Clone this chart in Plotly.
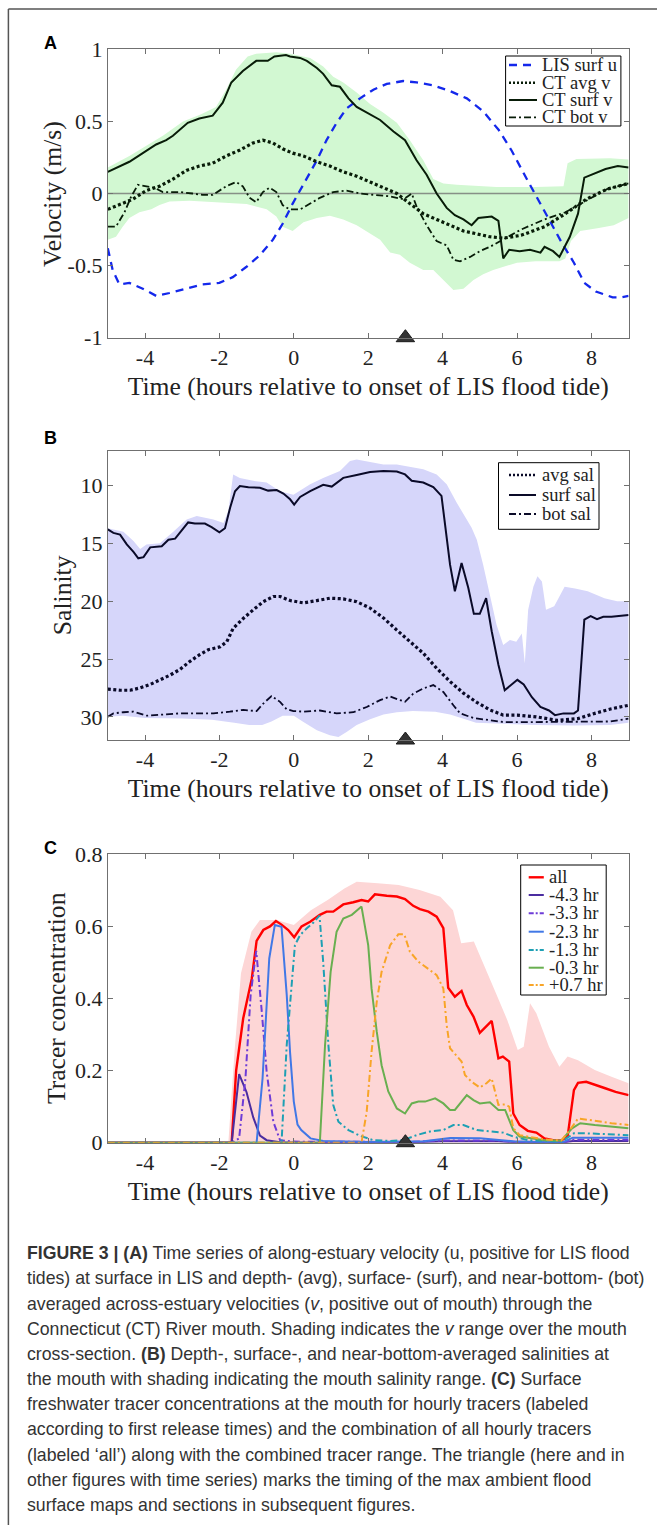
import plotly.graph_objects as go

# ---------------- Panel A: velocities (m/s) ----------------
LIS_U_T = [-5, -4.87, -4.69, -4.42, -4.06, -3.70, -3.34, -2.89, -2.45, -2.00,
           -1.64, -1.28, -0.92, -0.56, -0.30, -0.03, 0.12, 0.35, 0.62, 0.88,
           1.15, 1.42, 1.78, 2.14, 2.50, 2.94, 3.30, 3.75, 4.20, 4.65,
           5.09, 5.51, 5.85, 6.18, 6.52, 6.86, 7.20, 7.53, 7.81, 8.12,
           8.57, 8.80, 9.0]
LIS_U = [-0.38, -0.53, -0.63, -0.62, -0.66, -0.71, -0.69, -0.66, -0.63, -0.62,
         -0.58, -0.51, -0.43, -0.32, -0.21, -0.07, 0.0, 0.10, 0.23, 0.37,
         0.49, 0.59, 0.66, 0.72, 0.76, 0.78, 0.77, 0.75, 0.71, 0.66,
         0.57, 0.44, 0.30, 0.14, -0.02, -0.18, -0.34, -0.48, -0.62, -0.68,
         -0.72, -0.72, -0.71]

CT_SURF_T = [-5, -4.42, -4.06, -3.70, -3.43, -3.25, -2.85, -2.54, -2.18, -1.91,
             -1.68, -1.37, -1.01, -0.70, -0.52, -0.21, -0.10, 0.17, 0.35, 0.62,
             0.79, 1.02, 1.24, 1.47, 1.69, 2.05, 2.32, 2.68, 2.99, 3.30,
             3.57, 3.84, 4.11, 4.33, 4.56, 4.78, 4.96, 5.32, 5.50, 5.63,
             5.79, 6.07, 6.35, 6.63, 6.74, 6.97, 7.14, 7.42, 7.64, 7.81,
             8.09, 8.38, 8.71, 9.0]
CT_SURF_V = [0.15, 0.22, 0.28, 0.34, 0.37, 0.40, 0.49, 0.52, 0.54, 0.63,
             0.77, 0.85, 0.92, 0.92, 0.95, 0.96, 0.95, 0.94, 0.92, 0.87,
             0.83, 0.75, 0.74, 0.66, 0.60, 0.55, 0.51, 0.43, 0.37, 0.23,
             0.13, 0.00, -0.10, -0.15, -0.18, -0.22, -0.17, -0.16, -0.19, -0.45,
             -0.39, -0.40, -0.39, -0.41, -0.37, -0.40, -0.44, -0.30, -0.14, 0.11,
             0.14, 0.17, 0.19, 0.18]

CT_AVG_T = [-5, -4.60, -4.33, -3.97, -3.61, -3.25, -2.89, -2.54, -2.18, -1.82,
            -1.46, -1.10, -0.83, -0.56, -0.30, -0.03, 0.26, 0.62, 0.97, 1.33,
            1.69, 2.05, 2.41, 2.77, 3.12, 3.48, 3.84, 4.20, 4.56, 4.92,
            5.27, 5.63, 6.11, 6.74, 7.30, 7.86, 8.42, 9.0]
CT_AVG_V = [-0.11, -0.07, -0.04, 0.02, 0.05, 0.10, 0.16, 0.19, 0.21, 0.26,
            0.30, 0.35, 0.37, 0.35, 0.31, 0.28, 0.26, 0.22, 0.19, 0.15,
            0.12, 0.08, 0.04, 0.00, -0.07, -0.14, -0.18, -0.22, -0.26, -0.28,
            -0.30, -0.31, -0.29, -0.23, -0.14, -0.04, 0.03, 0.07]

CT_BOT_T = [-5, -4.78, -4.55, -4.37, -4.19, -3.97, -3.75, -3.52, -3.07, -2.72,
            -2.45, -2.18, -1.82, -1.55, -1.37, -1.19, -1.01, -0.83, -0.65, -0.47,
            -0.30, -0.12, 0.17, 0.44, 0.70, 1.06, 1.42, 1.78, 2.23, 2.59,
            2.95, 3.17, 3.30, 3.57, 3.84, 4.11, 4.29, 4.47, 4.74, 5.00,
            5.27, 5.63, 6.11, 6.74, 7.30, 7.86, 8.42, 9.0]
CT_BOT_V = [-0.23, -0.23, -0.13, -0.02, 0.06, 0.05, 0.04, 0.01, 0.01, 0.00,
            -0.01, -0.01, 0.05, 0.08, 0.05, -0.03, -0.06, 0.01, 0.04, 0.01,
            -0.08, -0.11, -0.11, -0.07, -0.03, 0.01, 0.02, 0.00, -0.01, -0.02,
            -0.04, 0.00, -0.09, -0.22, -0.33, -0.36, -0.46, -0.47, -0.44, -0.40,
            -0.37, -0.32, -0.25, -0.18, -0.13, -0.05, 0.03, 0.07]

# v range over the mouth cross-section
V_MAX_T = [-5, -4.42, -3.52, -2.98, -2.49, -2.09, -1.82, -1.55, -1.24, -1.01,
           -0.47, -0.10, 0.44, 0.79, 1.06, 1.33, 1.69, 2.05, 2.41, 2.77,
           3.12, 3.48, 3.75, 4.02, 4.38, 4.92, 5.45, 6.5, 7.25, 7.36,
           7.6, 8.5, 9.0]
V_MAX = [0.18, 0.26, 0.40, 0.50, 0.55, 0.60, 0.72, 0.86, 0.95, 0.97,
         0.98, 0.97, 0.94, 0.88, 0.81, 0.77, 0.70, 0.62, 0.56, 0.49,
         0.37, 0.23, 0.10, 0.07, 0.06, 0.05, 0.045, 0.045, 0.05, 0.21,
         0.24, 0.245, 0.235]
V_MIN_T = [-5, -4.78, -4.60, -4.42, -4.15, -3.83, -3.61, -3.34, -2.80, -2.16,
           -1.71, -1.27, -0.73, -0.47, -0.30, -0.03, 0.26, 0.62, 0.97, 1.33,
           1.69, 2.05, 2.32, 2.59, 2.85, 3.12, 3.48, 3.75, 4.02, 4.29,
           4.56, 4.83, 5.09, 5.36, 5.63, 6.0, 6.5, 7.14, 7.3, 7.45,
           7.7, 8.2, 8.6, 9.0]
V_MIN = [-0.32, -0.30, -0.23, -0.17, -0.13, -0.11, -0.08, -0.055, -0.05, -0.06,
         -0.067, -0.072, -0.11, -0.16, -0.23, -0.26, -0.20, -0.17, -0.155, -0.18,
         -0.22, -0.275, -0.32, -0.41, -0.425, -0.48, -0.53, -0.53, -0.60, -0.67,
         -0.66, -0.60, -0.56, -0.53, -0.51, -0.48, -0.47, -0.47, -0.45, -0.33,
         -0.26, -0.24, -0.22, -0.17]

# ---------------- Panel B: salinity ----------------
SURF_SAL_T = [-5, -4.85, -4.67, -4.49, -4.31, -4.18, -4.04, -3.86, -3.55, -3.37,
              -3.19, -3.01, -2.84, -2.66, -2.39, -2.21, -2.00, -1.85, -1.71, -1.58,
              -1.45, -1.22, -0.91, -0.69, -0.46, -0.28, -0.10, 0.01, 0.17, 0.44,
              0.79, 1.02, 1.33, 1.69, 2.05, 2.41, 2.77, 2.99, 3.17, 3.48,
              3.75, 3.97, 4.11, 4.20, 4.33, 4.51, 4.69, 4.84, 5.00, 5.17,
              5.32, 5.50, 5.67, 6.01, 6.18, 6.40, 6.63, 6.86, 7.02, 7.25,
              7.53, 7.64, 7.81, 7.98, 8.15, 8.32, 8.54, 9.0]
SURF_SAL = [13.8, 14.1, 14.25, 15.1, 15.75, 16.3, 16.2, 15.35, 15.25, 14.7,
            14.6, 13.9, 13.2, 13.3, 13.3, 13.6, 14.05, 13.7, 11.9, 10.5,
            10.05, 10.15, 10.2, 10.45, 10.4, 10.7, 11.2, 11.65, 11.0, 10.5,
            9.95, 10.1, 9.35, 9.1, 8.85, 8.75, 8.8, 9.05, 9.6, 9.75,
            10.15, 10.9, 14.5, 16.85, 19.15, 16.7, 18.85, 21.1, 21.1, 19.75,
            22.6, 25.5, 27.7, 26.8, 27.2, 28.3, 29.15, 29.45, 29.85, 29.7,
            29.7, 29.45, 21.6, 21.3, 21.55, 21.35, 21.35, 21.2]

AVG_SAL_T = [-5, -4.67, -4.40, -4.13, -3.86, -3.60, -3.33, -3.06, -2.79, -2.52,
             -2.30, -1.98, -1.80, -1.63, -1.36, -1.09, -0.82, -0.55, -0.37, -0.10,
             0.26, 0.62, 0.97, 1.33, 1.69, 2.05, 2.41, 2.77, 3.12, 3.48,
             3.84, 4.20, 4.56, 4.92, 5.27, 5.63, 6.00, 6.52, 7.08, 7.64,
             8.09, 8.54, 9.0]
AVG_SAL = [27.6, 27.7, 27.7, 27.5, 27.2, 26.8, 26.4, 25.9, 25.2, 24.6,
           24.2, 23.95, 23.5, 22.35, 21.5, 20.75, 20.05, 19.6, 19.6, 19.95,
           20.15, 19.95, 19.75, 19.8, 20.05, 20.6, 21.45, 22.5, 23.45, 24.5,
           25.8, 26.95, 27.95, 28.75, 29.4, 29.85, 29.85, 30.0, 30.3, 30.15,
           29.7, 29.3, 29.0]

BOT_SAL_T = [-5, -4.85, -4.58, -4.31, -3.95, -3.51, -3.06, -2.61, -2.16, -1.72,
             -1.36, -1.00, -0.82, -0.60, -0.37, -0.19, -0.01, 0.26, 0.70, 1.15,
             1.60, 1.96, 2.32, 2.59, 2.99, 3.21, 3.48, 3.75, 4.02, 4.29,
             4.47, 4.83, 5.27, 5.63, 6.5, 7.5, 8.5, 9.0]
BOT_SAL = [30.0, 29.7, 29.6, 29.55, 29.9, 29.8, 29.7, 29.7, 29.7, 29.55,
           29.4, 29.5, 28.85, 28.2, 28.7, 29.35, 29.5, 29.55, 29.45, 29.7,
           29.6, 29.15, 28.55, 28.25, 28.7, 28.0, 27.55, 27.25, 27.85, 29.0,
           29.7, 30.1, 30.3, 30.45, 30.45, 30.45, 30.4, 30.15]

# mouth salinity range
SAL_MIN_T = [-5, -4.58, -4.31, -4.13, -3.96, -3.60, -3.24, -2.88, -2.61, -2.16,
             -1.89, -1.76, -1.63, -1.45, -1.09, -0.73, -0.37, -0.01, 0.44, 0.79,
             1.24, 1.51, 1.69, 2.05, 2.41, 2.77, 3.12, 3.48, 3.84, 4.11,
             4.38, 4.56, 4.78, 4.92, 5.09, 5.27, 5.45, 5.63, 5.81, 5.98,
             6.13, 6.21, 6.30, 6.44, 6.55, 6.67, 6.78, 7.00, 7.28, 7.56,
             7.90, 8.35, 8.69, 9.0]
SAL_MIN = [13.7, 14.0, 14.8, 15.5, 15.1, 15.0, 14.0, 12.95, 12.65, 12.95,
           13.25, 12.2, 9.05, 9.35, 9.6, 9.75, 10.5, 10.8, 9.9, 9.35,
           8.75, 7.9, 7.75, 7.95, 8.2, 8.2, 8.4, 8.6, 9.05, 9.9,
           11.5, 12.5, 13.65, 14.7, 16.85, 19.45, 22.05, 23.8, 23.35, 23.5,
           22.8, 25.4, 20.75, 18.75, 17.85, 18.3, 20.75, 20.45, 18.75, 18.9,
           19.15, 19.75, 20.0, 20.0]
SAL_MAX_T = [-5, -4.6, -4.0, -3.0, -2.2, -1.6, -1.2, -0.85, -0.6, -0.3,
             0.0, 0.26, 0.62, 0.97, 1.2, 1.42, 1.69, 2.05, 2.41, 2.77,
             3.2, 3.8, 4.2, 4.5, 4.9, 5.5, 6.5, 7.5, 8.5, 9.0]
SAL_MAX = [30.0, 29.9, 30.1, 30.15, 30.25, 30.5, 30.7, 30.7, 30.4, 29.9,
           29.9, 30.45, 31.15, 31.6, 31.75, 31.3, 30.7, 30.2, 29.8, 29.6,
           29.5, 29.55, 29.8, 30.1, 30.5, 30.6, 30.7, 30.75, 30.7, 30.5]

# ---------------- Panel C: surface tracer concentrations ----------------
ALL_T = [-5, -1.67, -1.55, -1.36, -1.13, -1.00, -0.82, -0.64, -0.48, -0.33,
         -0.15, 0.01, 0.21, 0.44, 0.70, 0.88, 1.06, 1.33, 1.60, 1.82,
         2.00, 2.18, 2.50, 2.77, 2.99, 3.21, 3.39, 3.62, 3.84, 4.02,
         4.15, 4.33, 4.51, 4.65, 4.83, 5.00, 5.32, 5.50, 5.62, 5.79,
         5.90, 6.07, 6.29, 6.52, 6.74, 6.97, 7.19, 7.36, 7.53, 7.64,
         7.86, 8.09, 8.37, 8.65, 9.0]
ALL_C = [0, 0, 0.20, 0.345, 0.455, 0.56, 0.59, 0.60, 0.615, 0.605,
         0.59, 0.57, 0.60, 0.613, 0.632, 0.641, 0.641, 0.661, 0.667, 0.673,
         0.669, 0.689, 0.685, 0.683, 0.676, 0.657, 0.648, 0.641, 0.627, 0.595,
         0.43, 0.405, 0.421, 0.382, 0.35, 0.305, 0.338, 0.234, 0.239, 0.225,
         0.081, 0.049, 0.033, 0.028, 0.012, 0.007, 0.006, 0.017, 0.146, 0.166,
         0.169, 0.16, 0.151, 0.141, 0.132]

ALL_MAX_T = [-5, -1.76, -1.59, -1.42, -1.14, -0.91, -0.46, 0.0, 0.46, 0.91,
             1.36, 1.69, 2.26, 2.82, 3.38, 3.94, 4.28, 4.50, 4.84, 5.06,
             5.40, 5.74, 6.02, 6.18, 6.35, 6.52, 6.86, 7.14, 7.36, 7.64,
             8.09, 8.54, 9.0]
ALL_MAX = [0, 0, 0.257, 0.47, 0.585, 0.618, 0.618, 0.604, 0.645, 0.673,
           0.705, 0.724, 0.72, 0.715, 0.701, 0.682, 0.645, 0.553, 0.558, 0.507,
           0.423, 0.34, 0.257, 0.266, 0.387, 0.359, 0.266, 0.211, 0.239, 0.229,
           0.202, 0.183, 0.165]

TR43_T = [-5, -1.67, -1.47, -1.27, -1.09, -0.91, -0.73, -0.37, 0.5, 3.0,
          4.0, 5.5, 6.0, 7.2, 7.5, 9.0]
TR43_C = [0, 0, 0.19, 0.14, 0.07, 0.02, 0.007, 0.001, 0.0, 0.0,
          0.004, 0.004, 0.001, 0.0, 0.005, 0.005]

TR33_T = [-5, -1.67, -1.47, -1.30, -1.16, -1.01, -0.86, -0.73, -0.55, -0.37,
          0.0, 3.0, 4.0, 5.5, 6.0, 7.2, 7.5, 9.0]
TR33_C = [0, 0, 0.012, 0.178, 0.41, 0.532, 0.363, 0.197, 0.058, 0.007,
          0.003, 0.002, 0.006, 0.006, 0.002, 0.0, 0.008, 0.008]

TR23_T = [-5, -1.0, -0.84, -0.66, -0.51, -0.33, -0.19, -0.10, 0.0, 0.10,
          0.20, 0.45, 0.79, 2.0, 3.5, 4.2, 5.0, 5.9, 7.2, 7.5, 9.0]
TR23_C = [0, 0, 0.178, 0.511, 0.604, 0.599, 0.41, 0.25, 0.114, 0.05,
          0.035, 0.012, 0.005, 0.002, 0.004, 0.013, 0.012, 0.004, 0.0, 0.014, 0.014]

TR13_T = [-5, -0.33, -0.19, -0.01, 0.03, 0.17, 0.35, 0.53, 0.69, 0.79,
          0.93, 1.06, 1.20, 1.47, 1.78, 2.14, 2.59, 2.94, 3.30, 3.66,
          4.02, 4.29, 4.56, 4.92, 5.27, 5.63, 5.90, 6.29, 7.2, 7.53,
          7.86, 9.0]
TR13_C = [0, 0, 0.271, 0.479, 0.548, 0.576, 0.595, 0.611, 0.63, 0.502,
          0.271, 0.105, 0.058, 0.035, 0.019, 0.007, 0.005, 0.007, 0.021, 0.031,
          0.035, 0.049, 0.049, 0.035, 0.032, 0.028, 0.017, 0.007, 0.003, 0.026,
          0.026, 0.021]

TR03_T = [-5, 0.70, 0.84, 0.99, 1.15, 1.33, 1.56, 1.82, 2.00, 2.09,
          2.23, 2.36, 2.54, 2.77, 2.99, 3.17, 3.35, 3.53, 3.80, 4.02,
          4.20, 4.33, 4.65, 4.83, 5.00, 5.27, 5.50, 5.68, 5.90, 6.07,
          6.74, 7.19, 7.48, 7.70, 8.09, 9.0]
TR03_C = [0, 0, 0.271, 0.474, 0.585, 0.622, 0.632, 0.655, 0.548, 0.428,
          0.308, 0.215, 0.142, 0.095, 0.081, 0.109, 0.114, 0.114, 0.123, 0.109,
          0.091, 0.091, 0.132, 0.118, 0.109, 0.112, 0.091, 0.091, 0.035, 0.017,
          0.007, 0.006, 0.04, 0.054, 0.049, 0.04]

TR07_T = [-5, 1.82, 1.96, 2.09, 2.23, 2.36, 2.59, 2.81, 2.97, 3.12,
          3.35, 3.57, 3.84, 4.02, 4.11, 4.20, 4.38, 4.51, 4.60, 4.78,
          5.00, 5.18, 5.32, 5.41, 5.50, 5.68, 5.79, 5.90, 6.07, 6.74,
          7.19, 7.42, 7.64, 8.09, 8.54, 9.0]
TR07_C = [0, 0, 0.086, 0.252, 0.391, 0.474, 0.548, 0.578, 0.578, 0.53,
          0.502, 0.486, 0.465, 0.428, 0.326, 0.262, 0.239, 0.225, 0.188, 0.169,
          0.153, 0.165, 0.178, 0.142, 0.105, 0.106, 0.1, 0.04, 0.021, 0.009,
          0.006, 0.035, 0.067, 0.061, 0.054, 0.049]

# timing of the max ambient flood (triangle marker)
MAX_FLOOD_T = 3.0

X_RANGE = [-5, 9]
X_TICKS = [-4, -2, 0, 2, 4, 6, 8]
X_TICK_TEXT = ["-4", "-2", "0", "2", "4", "6", "8"]
VEL_TICKS = [-1, -0.5, 0, 0.5, 1]
VEL_TICK_TEXT = ["-1", "-0.5", "0", "0.5", "1"]
SAL_TICKS = [10, 15, 20, 25, 30]
SAL_TICK_TEXT = ["10", "15", "20", "25", "30"]
TR_TICKS = [0, 0.2, 0.4, 0.6, 0.8]
TR_TICK_TEXT = ["0", "0.2", "0.4", "0.6", "0.8"]
X_TITLE = "Time (hours relative to onset of LIS flood tide)"

CAPTION = [
    "<b>FIGURE 3 | (A)</b> Time series of along-estuary velocity (u, positive for LIS flood",
    "tides) at surface in LIS and depth- (avg), surface- (surf), and near-bottom- (bot)",
    "averaged across-estuary velocities (<i>v</i>, positive out of mouth) through the",
    "Connecticut (CT) River mouth. Shading indicates the <i>v</i> range over the mouth",
    "cross-section. <b>(B)</b> Depth-, surface-, and near-bottom-averaged salinities at",
    "the mouth with shading indicating the mouth salinity range. <b>(C)</b> Surface",
    "freshwater tracer concentrations at the mouth for hourly tracers (labeled",
    "according to first release times) and the combination of all hourly tracers",
    "(labeled \u2018all\u2019) along with the combined tracer range. The triangle (here and in",
    "other figures with time series) marks the timing of the max ambient flood",
    "surface maps and sections in subsequent figures.",
]

# ---------------- styling ----------------
W, H = 657, 1525
SERIF = "Liberation Serif, Times New Roman, serif"
SANS = "Liberation Sans, Arial, sans-serif"
NARROW = "Liberation Sans Narrow, Arial Narrow, Liberation Sans, sans-serif"
AXIS_GRAY = "#707070"
TEXT_DARK = "#222222"

GREEN_FILL = "rgb(210,248,210)"
VEL_LINE = "rgb(8,28,8)"
BLUE_U = "rgb(20,40,235)"
LAV_FILL = "rgb(214,214,250)"
SAL_LINE = "rgb(10,10,40)"
PINK_FILL = "rgb(253,214,214)"
TR_COLORS = {
    "all": "rgb(255,0,0)",
    "-4.3": "rgb(75,45,160)",
    "-3.3": "rgb(110,60,215)",
    "-2.3": "rgb(65,120,230)",
    "-1.3": "rgb(30,160,180)",
    "-0.3": "rgb(105,175,80)",
    "+0.7": "rgb(248,165,40)",
}

# axis boxes in pixels (left, right, top, bottom)
AX_LEFT, AX_RIGHT = 107.8, 628.6
BOXES = {"A": (49.3, 337.7), "B": (450.7, 740.0), "C": (854.3, 1142.7)}


def fx(px):
    return px / W


def fy(py):
    return 1 - py / H


fig = go.Figure()

# ---- Panel A ----
fig.add_trace(go.Scatter(x=V_MAX_T + V_MIN_T[::-1], y=V_MAX + V_MIN[::-1],
                         fill="toself", fillcolor=GREEN_FILL, mode="lines",
                         line=dict(width=0), hoverinfo="skip",
                         xaxis="x", yaxis="y"))
fig.add_trace(go.Scatter(x=X_RANGE, y=[0, 0], mode="lines",
                         line=dict(color="rgba(110,110,110,0.75)", width=1.5),
                         xaxis="x", yaxis="y"))
fig.add_trace(go.Scatter(x=LIS_U_T, y=LIS_U, mode="lines",
                         line=dict(color=BLUE_U, width=2.3, dash="8px,6px"),
                         xaxis="x", yaxis="y"))
fig.add_trace(go.Scatter(x=CT_AVG_T, y=CT_AVG_V, mode="lines",
                         line=dict(color=VEL_LINE, width=3.2, dash="3px,2.5px"),
                         xaxis="x", yaxis="y"))
fig.add_trace(go.Scatter(x=CT_SURF_T, y=CT_SURF_V, mode="lines",
                         line=dict(color=VEL_LINE, width=2),
                         xaxis="x", yaxis="y"))
fig.add_trace(go.Scatter(x=CT_BOT_T, y=CT_BOT_V, mode="lines",
                         line=dict(color=VEL_LINE, width=1.8, dash="7px,3px,2px,3px"),
                         xaxis="x", yaxis="y"))

# ---- Panel B ----
fig.add_trace(go.Scatter(x=SAL_MIN_T + SAL_MAX_T[::-1], y=SAL_MIN + SAL_MAX[::-1],
                         fill="toself", fillcolor=LAV_FILL, mode="lines",
                         line=dict(width=0), hoverinfo="skip",
                         xaxis="x2", yaxis="y2"))
fig.add_trace(go.Scatter(x=AVG_SAL_T, y=AVG_SAL, mode="lines",
                         line=dict(color=SAL_LINE, width=3.2, dash="3px,2.5px"),
                         xaxis="x2", yaxis="y2"))
fig.add_trace(go.Scatter(x=SURF_SAL_T, y=SURF_SAL, mode="lines",
                         line=dict(color=SAL_LINE, width=2),
                         xaxis="x2", yaxis="y2"))
fig.add_trace(go.Scatter(x=BOT_SAL_T, y=BOT_SAL, mode="lines",
                         line=dict(color=SAL_LINE, width=1.8, dash="7px,3px,2px,3px"),
                         xaxis="x2", yaxis="y2"))

# ---- Panel C ----
fig.add_trace(go.Scatter(x=ALL_MAX_T, y=ALL_MAX, fill="tozeroy",
                         fillcolor=PINK_FILL, mode="lines", line=dict(width=0),
                         hoverinfo="skip", xaxis="x3", yaxis="y3"))
tracer_series = [
    ("all", ALL_T, ALL_C, "solid", 2.4),
    ("-4.3", TR43_T, TR43_C, "solid", 2),
    ("-3.3", TR33_T, TR33_C, "7px,3px,2px,3px", 2),
    ("-2.3", TR23_T, TR23_C, "solid", 2),
    ("-1.3", TR13_T, TR13_C, "7px,3px,2px,3px", 2),
    ("-0.3", TR03_T, TR03_C, "solid", 2),
    ("+0.7", TR07_T, TR07_C, "7px,3px,2px,3px", 2),
]
for key, t, c, dash, w in tracer_series:
    fig.add_trace(go.Scatter(x=t, y=c, mode="lines",
                             line=dict(color=TR_COLORS[key], width=w, dash=dash),
                             xaxis="x3", yaxis="y3"))

# ---- triangle markers at the max ambient flood ----
for xa, ya, ybase in (("x", "y", -1), ("x2", "y2", 32), ("x3", "y3", 0)):
    fig.add_trace(go.Scatter(x=[MAX_FLOOD_T], y=[ybase], mode="markers",
                             marker=dict(symbol="triangle-up", size=16,
                                         color="#333333",
                                         line=dict(color="#1a1a1a", width=1)),
                             cliponaxis=False, xaxis=xa, yaxis=ya))

# ---- axes ----
common = dict(showline=True, linecolor=AXIS_GRAY, linewidth=1, mirror="ticks",
              ticks="inside", ticklen=5, tickwidth=1, tickcolor=AXIS_GRAY,
              showgrid=False, zeroline=False, automargin=False,
              tickfont=dict(family=SERIF, size=22, color=TEXT_DARK),
              fixedrange=True)
title_font = dict(family=SERIF, size=25.6, color=TEXT_DARK)


def xaxis_cfg(anchor):
    return dict(common, domain=[fx(AX_LEFT), fx(AX_RIGHT)], range=X_RANGE,
                tickvals=X_TICKS, ticktext=X_TICK_TEXT, anchor=anchor,
                title=dict(text=X_TITLE, font=title_font, standoff=7))


def yaxis_cfg(key, anchor, rng, vals, text):
    top, bottom = BOXES[key]
    return dict(common, domain=[fy(bottom), fy(top)], range=rng,
                tickvals=vals, ticktext=text, anchor=anchor)


fig.update_layout(
    xaxis=xaxis_cfg("y"),
    yaxis=yaxis_cfg("A", "x", [-1, 1], VEL_TICKS, VEL_TICK_TEXT),
    xaxis2=xaxis_cfg("y2"),
    yaxis2=yaxis_cfg("B", "x2", [32, 7], SAL_TICKS, SAL_TICK_TEXT),
    xaxis3=xaxis_cfg("y3"),
    yaxis3=yaxis_cfg("C", "x3", [0, 0.8], TR_TICKS, TR_TICK_TEXT),
)

shapes = []
annotations = []

# y-axis titles (rotated), centred on each axis box
for key, title, xc in (("A", "Velocity (m/s)", 52.4),
                       ("B", "Salinity", 62.8),
                       ("C", "Tracer concentration", 56.6)):
    top, bottom = BOXES[key]
    annotations.append(dict(xref="paper", yref="paper", x=fx(xc), y=fy((top + bottom) / 2),
                            text=title, textangle=-90, showarrow=False,
                            xanchor="center", yanchor="middle", font=title_font))


def legend_box(box, rows, sample, text_x, size):
    x0, y0, x1, y1 = box
    shapes.append(dict(type="rect", xref="paper", yref="paper",
                       x0=fx(x0), x1=fx(x1), y0=fy(y1), y1=fy(y0),
                       line=dict(color="black", width=1), fillcolor="white",
                       layer="above"))
    for label, y, line in rows:
        shapes.append(dict(type="line", xref="paper", yref="paper",
                           x0=fx(sample[0]), x1=fx(sample[1]), y0=fy(y), y1=fy(y),
                           line=line, layer="above"))
        annotations.append(dict(xref="paper", yref="paper", x=fx(text_x), y=fy(y),
                                text=label, showarrow=False, xanchor="left",
                                yanchor="middle",
                                font=dict(family=SERIF, size=size, color=TEXT_DARK)))


legend_box((505.6, 56, 620.9, 126), [
    ("LIS surf u", 65.0, dict(color=BLUE_U, width=2.3, dash="8px,6px")),
    ("CT avg v", 82.7, dict(color=VEL_LINE, width=2.5, dash="2px,2px")),
    ("CT surf v", 100.0, dict(color=VEL_LINE, width=2)),
    ("CT bot v", 117.3, dict(color=VEL_LINE, width=1.8, dash="7px,3px,2px,3px")),
], (509, 537), 540.4, 18.5)

legend_box((498.5, 462.7, 599, 529.3), [
    ("avg sal", 475.0, dict(color=SAL_LINE, width=2.5, dash="2px,2px")),
    ("surf sal", 495.0, dict(color=SAL_LINE, width=2)),
    ("bot sal", 514.0, dict(color=SAL_LINE, width=1.8, dash="7px,3px,2px,3px")),
], (509, 536), 540.4, 18.5)

legend_box((520.7, 865, 606.2, 995), [
    ("all", 877.3, dict(color=TR_COLORS["all"], width=2.4)),
    ("-4.3 hr", 895.0, dict(color=TR_COLORS["-4.3"], width=2)),
    ("-3.3 hr", 913.3, dict(color=TR_COLORS["-3.3"], width=2, dash="5px,2px,2px,2px")),
    ("-2.3 hr", 931.7, dict(color=TR_COLORS["-2.3"], width=2)),
    ("-1.3 hr", 950.0, dict(color=TR_COLORS["-1.3"], width=2, dash="5px,2px,2px,2px")),
    ("-0.3 hr", 967.7, dict(color=TR_COLORS["-0.3"], width=2)),
    ("+0.7 hr", 985.0, dict(color=TR_COLORS["+0.7"], width=2, dash="5px,2px,2px,2px")),
], (528.7, 543.8), 546.7, 18.5)

# panel letters
for letter, y in (("A", 43), ("B", 438), ("C", 848)):
    annotations.append(dict(xref="paper", yref="paper", x=fx(50), y=fy(y),
                            text=f"<b>{letter}</b>", showarrow=False,
                            xanchor="center", yanchor="middle",
                            font=dict(family=SANS, size=18, color="black")))

# caption
for i, line in enumerate(CAPTION):
    annotations.append(dict(xref="paper", yref="paper", x=fx(25), y=fy(1253.3 + i * 25.17),
                            text=line, showarrow=False, xanchor="left",
                            yanchor="middle",
                            font=dict(family=NARROW, size=17.7, color="#333333")))

# outer frame (left and top edges)
shapes.append(dict(type="line", xref="paper", yref="paper", x0=fx(8.4), x1=fx(8.4),
                   y0=0, y1=fy(9), line=dict(color="#555555", width=1.5)))
shapes.append(dict(type="line", xref="paper", yref="paper", x0=fx(8.4), x1=1,
                   y0=fy(9), y1=fy(9), line=dict(color="#555555", width=1.5)))

fig.update_layout(
    width=W, height=H, margin=dict(l=0, r=0, t=0, b=0),
    paper_bgcolor="white", plot_bgcolor="white", showlegend=False,
    template="none", shapes=shapes, annotations=annotations,
)

fig.write_html("out.html", config={"displayModeBar": False})
